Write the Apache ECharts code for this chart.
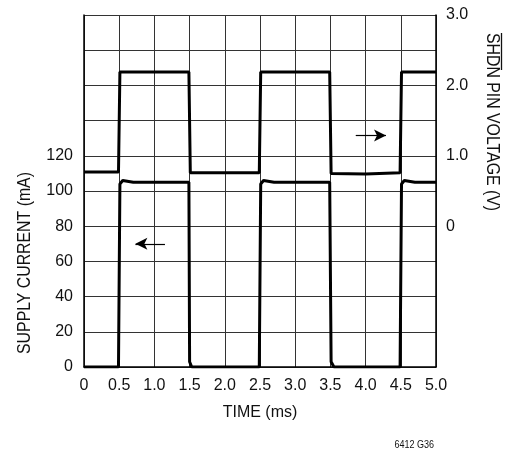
<!DOCTYPE html>
<html>
<head>
<meta charset="utf-8">
<script src="https://cdn.jsdelivr.net/npm/echarts@6/dist/echarts.min.js"></script>
<style>html,body{margin:0;padding:0;background:#fff}#c{width:516px;height:452px}</style>
</head>
<body>
<div id="c"></div>
<script>
// ---- data ----
var voltageTime   = [0, 0.49, 0.51, 1.49, 1.51, 2.0, 2.49, 2.51, 3.49, 3.51, 4.0, 4.49, 4.51, 5.0];
var voltageValues = [0.77, 0.77, 2.19, 2.19, 0.76, 0.76, 0.76, 2.19, 2.19, 0.75, 0.74, 0.76, 2.19, 2.19];
var currentTime   = [0, 0.49, 0.51, 0.55, 0.7, 1.49, 1.5, 1.53, 2.49, 2.51, 2.55, 2.7, 3.49, 3.51, 3.55, 4.49, 4.51, 4.55, 4.7, 5.0];
var currentValues = [0, 0, 104, 106, 105, 105, 3, 0, 0, 104, 106, 105, 105, 3, 0, 0, 104, 106, 105, 105];
var xTicks = [0, 0.5, 1.0, 1.5, 2.0, 2.5, 3.0, 3.5, 4.0, 4.5, 5.0];
var currentTicks = [0, 20, 40, 60, 80, 100, 120];
var voltageTicks = [0, 1.0, 2.0, 3.0];

var FONT = "'Liberation Sans Narrow', 'Liberation Sans', Arial, sans-serif";
function pairs(t, v) { return t.map(function (x, i) { return [x, v[i]]; }); }

var chart = echarts.init(document.getElementById('c'), null, {renderer: 'canvas'});
var grid = {left: 84, right: 80, top: 15, bottom: 85};
chart.setOption({
  animation: false,
  backgroundColor: '#fff',
  grid: grid,
  xAxis: {
    type: 'value', min: 0, max: 5, interval: 0.5,
    axisLine: {lineStyle: {color: '#000', width: 1.5}},
    axisTick: {show: false},
    splitLine: {show: true, lineStyle: {color: '#333', width: 1}},
    axisLabel: {color: '#111', fontFamily: FONT, fontSize: 16, margin: 11,
      formatter: function (v) { return xTicks.some(function (t) { return Math.abs(t - v) < 1e-6; }) ? (v === 0 ? '0' : v.toFixed(1)) : ''; }},
    name: 'TIME (ms)', nameLocation: 'middle', nameGap: 38,
    nameTextStyle: {color: '#111', fontFamily: FONT, fontSize: 16}
  },
  yAxis: [{
    type: 'value', min: 0, max: 200, interval: 20,
    axisLine: {show: true, lineStyle: {color: '#000', width: 1.5}},
    axisTick: {show: false},
    splitLine: {show: true, lineStyle: {color: '#333', width: 1}},
    axisLabel: {color: '#111', fontFamily: FONT, fontSize: 16, margin: 11,
      formatter: function (v) { return currentTicks.indexOf(v) >= 0 ? String(v) : ''; }}
  }, {
    type: 'value', min: -2.0, max: 3.0, interval: 0.5, position: 'right',
    axisLine: {show: true, lineStyle: {color: '#000', width: 1.5}},
    axisTick: {show: false},
    splitLine: {show: false},
    axisLabel: {color: '#111', fontFamily: FONT, fontSize: 16, margin: 10,
      formatter: function (v) {
        var hit = voltageTicks.some(function (t) { return Math.abs(t - v) < 1e-6; });
        return hit ? (Math.abs(v) < 1e-6 ? '0' : v.toFixed(1)) : '';
      }}
  }],
  series: [{
    type: 'line', yAxisIndex: 0, data: pairs(currentTime, currentValues),
    showSymbol: false, lineStyle: {color: '#000', width: 3}, z: 5,
    markLine: {silent: true, symbol: ['none', 'arrow'], symbolSize: [9, 12],
      label: {show: false}, lineStyle: {color: '#000', width: 1.2, type: 'solid'},
      data: [[{coord: [1.15, 70]}, {coord: [0.73, 70]}]]}
  }, {
    type: 'line', yAxisIndex: 1, data: pairs(voltageTime, voltageValues),
    showSymbol: false, lineStyle: {color: '#000', width: 3}, z: 5,
    markLine: {silent: true, symbol: ['none', 'arrow'], symbolSize: [9, 12],
      label: {show: false}, lineStyle: {color: '#000', width: 1.2, type: 'solid'},
      data: [[{coord: [3.86, 1.29]}, {coord: [4.29, 1.29]}]]}
  }],
  graphic: [{
    type: 'text', x: 25, y: 263, rotation: Math.PI / 2, scaleX: 0.88,
    style: {text: 'SUPPLY CURRENT (mA)', fill: '#111', font: '18px ' + FONT, textAlign: 'center', textVerticalAlign: 'middle'}
  }, {
    type: 'text', x: 492, y: 122, rotation: -Math.PI / 2, scaleX: 0.88,
    style: {text: 'SHDN PIN VOLTAGE (V)', fill: '#111', font: '18px ' + FONT, textAlign: 'center', textVerticalAlign: 'middle'}
  }, {
    type: 'line', z: 100, shape: {x1: 501.5, y1: 33, x2: 501.5, y2: 70}, style: {stroke: '#111', lineWidth: 1.3}
  }, {
    type: 'text', x: 434, y: 445, scaleX: 0.9, originX: 0,
    style: {text: '6412 G36', fill: '#111', font: '10px ' + FONT, textAlign: 'right', textVerticalAlign: 'middle'}
  }]
});
</script>
</body>
</html>
